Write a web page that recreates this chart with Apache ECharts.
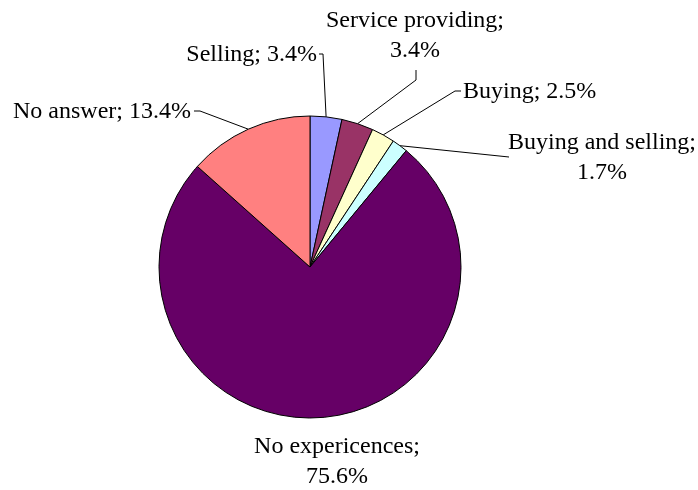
<!DOCTYPE html>
<html>
<head>
<meta charset="utf-8">
<script src="https://cdn.jsdelivr.net/npm/echarts@6/dist/echarts.min.js"></script>
<style>
  html, body { margin: 0; padding: 0; background: #ffffff; }
  #chart { width: 698px; height: 490px; }
</style>
</head>
<body>
<div id="chart"></div>
<script>
// Shares of respondents by type of experience (%)
const categories = ['Selling', 'Service providing', 'Buying', 'Buying and selling', 'No expericences', 'No answer'];
const shares = [3.4, 3.4, 2.5, 1.7, 75.6, 13.4];
const sliceColors = ['#9999FF', '#993366', '#FFFFCC', '#CCFFFF', '#660066', '#FF8080'];

// Label placement: anchor, alignment and leader-line bend/end for each slice
const labelPlacement = [
  { x: 317, y: 55,  align: 'right',  line: [[323, 54], [319, 54]] },
  { x: 415, y: 36,  align: 'center', line: [[416, 80], [416, 70]] },
  { x: 463, y: 92,  align: 'left',   line: [[455, 91], [461, 91]] },
  { x: 602, y: 158, align: 'center', line: [[509, 157]] },
  { x: 337, y: 462, align: 'center', line: null },
  { x: 191, y: 112, align: 'right',  line: [[200, 111], [194, 111]] }
];

const chart = echarts.init(document.getElementById('chart'), null, { renderer: 'canvas' });

const cx = 310, cy = 267, r = 151;
const total = shares.reduce((a, b) => a + b, 0);

// Point on the rim at the middle of slice i (clockwise from 12 o'clock)
function rimPoint(i) {
  let before = 0;
  for (let k = 0; k < i; k++) before += shares[k];
  const frac = (before + shares[i] / 2) / total;
  const ang = frac * 2 * Math.PI;
  return [cx + r * Math.sin(ang), cy - r * Math.cos(ang)];
}

chart.setOption({
  backgroundColor: '#ffffff',
  animation: false,
  series: [{
    type: 'pie',
    center: [cx, cy],
    radius: r,
    startAngle: 90,
    clockwise: true,
    avoidLabelOverlap: false,
    data: categories.map((name, i) => ({
      name: name,
      value: shares[i],
      itemStyle: { color: sliceColors[i] },
      labelLine: { show: !!labelPlacement[i].line }
    })),
    itemStyle: { borderColor: '#000000', borderWidth: 1 },
    label: {
      show: true,
      position: 'outside',
      color: '#000000',
      fontFamily: '"Liberation Serif", "Times New Roman", serif',
      fontSize: 24,
      lineHeight: 30,
      formatter: function (p) {
        const sep = p.name.length > 10 ? ';\n' : '; ';
        return p.name + sep + p.value.toFixed(1) + '%';
      }
    },
    labelLine: {
      show: true,
      length: 10,
      length2: 10,
      lineStyle: { color: '#000000', width: 1 }
    },
    labelLayout: function (params) {
      const lp = labelPlacement[params.dataIndex];
      const out = {
        x: lp.x,
        y: lp.y,
        align: lp.align,
        verticalAlign: 'middle'
      };
      if (lp.line) {
        out.labelLinePoints = [rimPoint(params.dataIndex)].concat(lp.line);
      }
      return out;
    }
  }]
});
</script>
</body>
</html>
